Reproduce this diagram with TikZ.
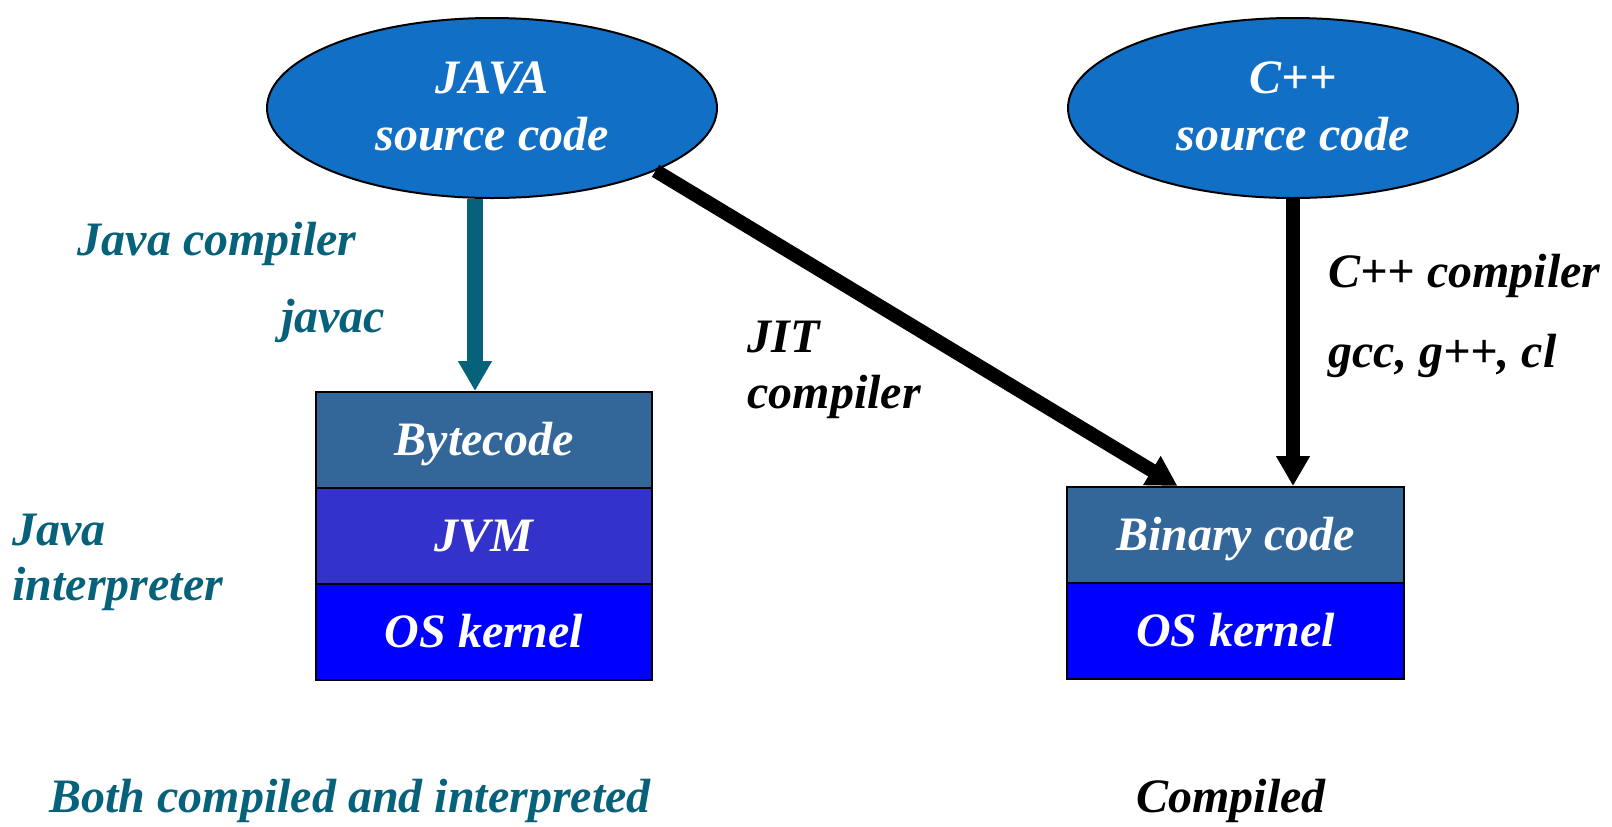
\documentclass[tikz,border=0pt]{standalone}
\usepackage{fontspec}
\setmainfont{Liberation Serif}
\usetikzlibrary{shapes.geometric,arrows.meta}
\definecolor{srcblue}{RGB}{17,112,198}
\definecolor{bytecol}{RGB}{51,102,153}
\definecolor{jvmcol}{RGB}{51,51,204}
\definecolor{oscol}{RGB}{0,0,255}
\definecolor{tealink}{RGB}{6,98,122}
\begin{document}
\begin{tikzpicture}[x=0.5pt,y=-0.5pt,
  txt/.style={font=\fontsize{24}{28}\selectfont\bfseries\itshape, inner sep=0pt},
  srcnode/.style={ellipse, draw=black, line width=1pt, fill=srcblue,
    minimum width=225pt, minimum height=90pt, inner sep=0pt},
  layer/.style={txt, draw=black, line width=1pt, text=white,
    minimum height=48pt, text height=15.9pt, text depth=0pt},
  tealarrow/.style={draw=tealink, line width=8pt,
    -{Triangle[width=16pt,length=15pt]}},
  blkarrow/.style={draw=black, line width=7pt,
    -{Triangle[width=16pt,length=15pt]}}]
\useasboundingbox (0,0) rectangle (1612,826);
\fill[white] (0,0) rectangle (1612,826);

% source ellipses
\node[srcnode] (java) at (492,108) {};
\node[srcnode] (cpp) at (1293,108) {};
\node[txt, text=white, anchor=base] (javat1) at ([yshift=7.5pt]java.center) {JAVA};
\node[txt, text=white, anchor=base] (javat2) at ([yshift=-21pt]java.center) {source code};
\node[txt, text=white, anchor=base] (cppt1) at ([yshift=7.5pt]cpp.center) {C++};
\node[txt, text=white, anchor=base] (cppt2) at ([yshift=-21pt]cpp.center) {source code};

% Java stack
\node[layer, fill=bytecol, minimum width=168pt] (byte) at (484,440) {Bytecode};
\node[layer, fill=jvmcol, minimum width=168pt] (jvm) at (484,536) {JVM};
\node[layer, fill=oscol, minimum width=168pt] (osj) at (484,632) {OS kernel};

% native stack
\node[layer, fill=bytecol, minimum width=168.5pt] (bin) at (1235.5,535) {Binary code};
\node[layer, fill=oscol, minimum width=168.5pt] (osc) at (1235.5,631) {OS kernel};

% connectors
\coordinate (jtip) at ([xshift=-4.5pt]byte.north);
\draw[tealarrow] (java.south -| jtip) -- (jtip);
\draw[blkarrow] (java.-21) -- ([xshift=-29pt]bin.north);
\draw[blkarrow] (cpp.south) -- (cpp.south |- bin.north);

% labels
\node[txt, text=tealink, anchor=base] (lcomp) at (217,255) {Java compiler};
\node[txt, text=tealink, anchor=base] (ljavac) at (333,332) {javac};
\node[txt, anchor=base west] (ljit) at (747,352) {JIT};
\node[txt, anchor=base west] (ljit2) at (747,408) {compiler};
\node[txt, anchor=base west] (lcpp) at (1328,287) {C++ compiler};
\node[txt, anchor=base west] (lgcc) at (1328,367) {gcc, g++, cl};
\node[txt, text=tealink, anchor=base west] (lint1) at (12,545) {Java};
\node[txt, text=tealink, anchor=base west] (lint2) at (12,600) {interpreter};
\node[txt, text=tealink, anchor=base west] (lboth) at (49,812) {Both compiled and interpreted};
\node[txt, anchor=base west] (lcomp2) at (1136,812) {Compiled};
\end{tikzpicture}
\end{document}
